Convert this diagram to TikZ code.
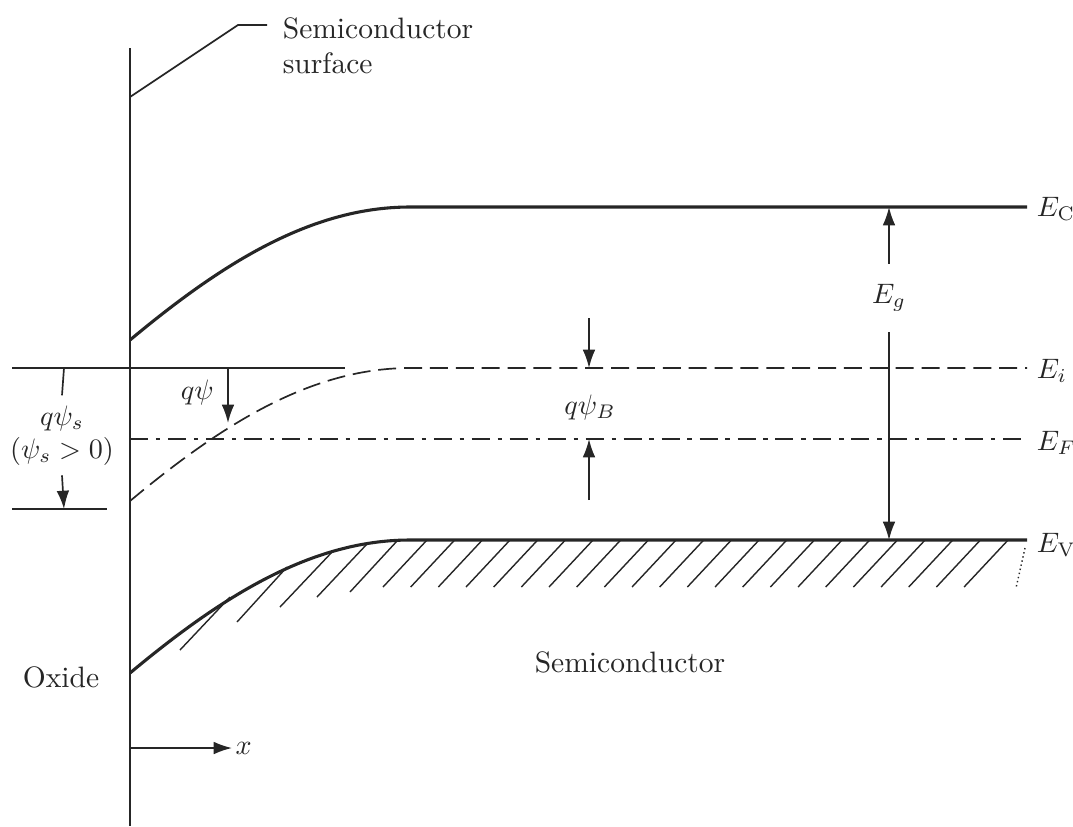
\documentclass[tikz,border=0pt]{standalone}
\usepackage{amsmath}
\usetikzlibrary{calc,positioning,arrows.meta}

\begin{document}
\begin{tikzpicture}[x=0.0125cm, y=-0.0125cm, >={Latex[length=6.5pt,width=4.5pt]}, line width=0.6pt, color=black!85]

    % --- parameters ---
    \def\xs{130}    % semiconductor surface
    \def\xe{1027}   % right end of the levels
    \def\yC{207}    % E_C in the bulk
    \def\yI{368}    % E_i in the bulk
    \def\yF{439}    % E_F
    \def\yV{540}    % E_V in the bulk
    \def\bend{133}  % band bending at the surface

    \tikzset{
        band/.style={line width=1.1pt},
        hatchline/.style={line width=0.5pt},
        idash/.style={dash pattern=on 6.4pt off 2.8pt},
        fdash/.style={dash pattern=on 6.4pt off 2.8pt on 1.5pt off 2.8pt},
        lbl/.style={font=\fontsize{10.5}{12.5}\selectfont},
        lev/.style={anchor=west, inner sep=0pt},
    }

    \useasboundingbox (0,0) rectangle (1073,826);

    % --- surface ---
    \draw[line width=1pt] (\xs,48) -- (\xs,826);
    \coordinate (SurfPt) at (\xs,97);
    \node[lbl, anchor=west, align=left, inner sep=0pt] (SurfLbl) at (282,46) {Semiconductor\\surface};
    \draw (SurfPt) -- (238,25) -- ($(SurfLbl.west |- 0,25)+(-15,0)$);

    % --- bands ---
    \draw[band] (\xs,\yC+\bend) .. controls (220,\yC+58) and (310,\yC) .. (410,\yC) -- (\xe,\yC);
    \draw[idash] (\xs,\yI+\bend) .. controls (220,\yI+58) and (310,\yI) .. (410,\yI) -- (\xe,\yI);
    \draw[fdash] (\xs,\yF) -- (\xe,\yF);
    \draw[band] (\xs,\yV+\bend) .. controls (220,\yV+58) and (310,\yV) .. (410,\yV) -- (\xe,\yV);

    % hatching under E_V
    \foreach \xa/\ya/\xb/\yb in {230/597/180/650, 287/567/237/622, 333/551/280/607, 367/544/317/597, 397/541/350/592}
        \draw[hatchline] (\xa,\ya) -- (\xb,\yb);
    \foreach \k in {0,...,21}
        \draw[hatchline] ({427+27.67*\k},\yV) -- ++(-44,47);
    \draw[hatchline, densely dotted] (1025,548) -- (1016,588);

    % --- level labels ---
    \node[lev] (EC) at (1036,\yC+2) {$E_{\mathrm{C}}$};
    \node[lev] (Ei) at (1036,\yI+3) {$E_i$};
    \node[lev] (EF) at (1036,\yF+4) {$E_F$};
    \node[lev] (EV) at (1036,\yV+5) {$E_{\mathrm{V}}$};

    % --- oxide side: q psi_s ---
    \draw (12,\yI) -- (345,\yI);
    \draw (12,509) -- (107,509);
    \coordinate (PsiTop) at (64,\yI);
    \coordinate (PsiBot) at (64,509);
    \node (PsiS) at (62,418) {$q\psi_s$};
    \node (PsiCond) at (62,451) {$(\psi_s>0)$};
    \draw (PsiTop) -- (PsiS.north);
    \draw[->] (PsiCond.south) -- (PsiBot);

    % q psi
    \node[anchor=east] (Psi) at (224,392) {$q\psi$};
    \coordinate (PsiA) at (228,\yI);
    \coordinate (PsiB) at (228,423);
    \draw[->] (PsiA) -- (PsiB);

    % q psi_B
    \node (PsiBulk) at (590,407) {$q\psi_B$};
    \coordinate (BTop) at (589,318);
    \coordinate (BBot) at (589,500);
    \draw[->] (BTop) -- (589,\yI);
    \draw[->] (BBot) -- (589,\yF);

    % E_g
    \node[inner ysep=7pt] (Eg) at (889,298) {$E_g$};
    \draw[->] (Eg.north) -- (889,\yC);
    \draw[->] (Eg.south) -- (889,\yV);

    % --- region labels ---
    \node[lbl] (Ox) at (61,677) {Oxide};
    \node[lbl] (Semi) at (630,662) {Semiconductor};

    % x axis
    \coordinate (XO) at (\xs,748);
    \node[anchor=west, inner sep=1pt] (XLbl) at (232,748) {$x$};
    \draw[->] (XO) -- (XLbl.west);

\end{tikzpicture}
\end{document}
